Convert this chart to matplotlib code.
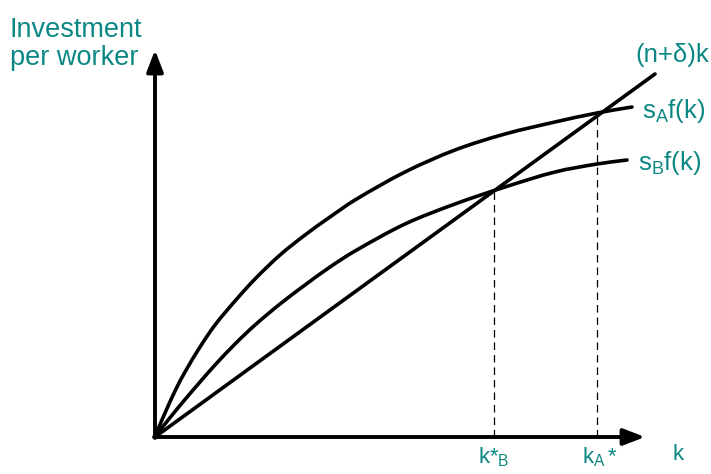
import matplotlib
matplotlib.use("Agg")
import matplotlib.pyplot as plt
from matplotlib.path import Path
from matplotlib.patches import PathPatch

plt.rcParams['font.family'] = ['Liberation Sans', 'DejaVu Sans']
plt.rcParams['mathtext.fontset'] = 'custom'
plt.rcParams['mathtext.rm'] = 'Liberation Sans'
plt.rcParams['mathtext.it'] = 'Liberation Sans:italic'

TEAL = '#0b8883'

# capital per worker (k) and investment per worker, high savings rate s_A
k_A = [0.0, 0.05, 0.1, 0.2, 0.3, 0.45, 0.6, 0.8, 1.0, 1.25, 1.5, 1.75, 2.0,
       2.5, 3.0, 3.5, 4.0, 4.42, 4.77]
inv_A = [0.0, 0.125, 0.24, 0.46, 0.65, 0.90, 1.12, 1.36, 1.58, 1.82, 2.02, 2.20, 2.37,
         2.65, 2.87, 3.03, 3.15, 3.24, 3.30]

# low savings rate s_B
k_B = [0.0, 0.05, 0.1, 0.2, 0.3, 0.45, 0.6, 0.8, 1.0, 1.25, 1.5, 1.75, 2.0,
       2.5, 3.0, 3.5, 4.0, 4.42, 4.72]
inv_B = [0.0, 0.065, 0.13, 0.255, 0.375, 0.55, 0.72, 0.93, 1.12, 1.33, 1.52, 1.70, 1.86,
         2.13, 2.33, 2.50, 2.65, 2.73, 2.77]

# break-even investment line (n+delta)k
k_line = [0.0, 5.0]
breakeven = [0.0, 3.63]

# steady states
kstar_B, ystar_B = 3.39, 2.46
kstar_A, ystar_A = 4.42, 3.23


def smooth_path(xs, ys):
    """Hermite curve through the points (finite-difference slopes), as Bezier segments."""
    n = len(xs)
    slopes = []
    for i in range(n):
        a = max(i - 1, 0)
        b = min(i + 1, n - 1)
        slopes.append((ys[b] - ys[a]) / (xs[b] - xs[a]))
    verts = [(xs[0], ys[0])]
    codes = [Path.MOVETO]
    for i in range(n - 1):
        h = xs[i + 1] - xs[i]
        c1 = (xs[i] + h / 3, ys[i] + slopes[i] * h / 3)
        c2 = (xs[i + 1] - h / 3, ys[i + 1] - slopes[i + 1] * h / 3)
        verts += [c1, c2, (xs[i + 1], ys[i + 1])]
        codes += [Path.CURVE4] * 3
    return Path(verts, codes)


fig = plt.figure(figsize=(7.11, 4.74), dpi=100)
ax = fig.add_axes([0, 0, 1, 1])
ax.set_xlim(-1.55, 5.56)
ax.set_ylim(-0.37, 4.37)
ax.axis('off')

LW = 2.6
for xs, ys in [(k_A, inv_A), (k_B, inv_B)]:
    ax.add_patch(PathPatch(smooth_path(xs, ys), fill=False, edgecolor='black', lw=LW,
                           capstyle='round', joinstyle='round'))
ax.plot(k_line, breakeven, color='black', lw=LW, solid_capstyle='round')

# steady-state drop lines
ax.plot([kstar_B, kstar_B], [0, ystar_B], color='black', lw=0.9, ls=(0, (6, 4)))
ax.plot([kstar_A, kstar_A], [0, ystar_A], color='black', lw=0.9, ls=(0, (6, 4)))

# axes with arrow heads
arrow = dict(arrowstyle='-|>,head_length=1.3,head_width=0.5', lw=2.8, color='black',
             shrinkA=0, shrinkB=0, mutation_scale=10)
ax.annotate('', xy=(0, 3.87), xytext=(0, -0.01), arrowprops=arrow)
ax.annotate('', xy=(4.90, 0), xytext=(-0.01, 0), arrowprops=arrow)

# labels
ax.text(-1.45, 4.00, 'Investment', color=TEAL, fontsize=19.5, va='baseline', ha='left')
ax.text(-1.45, 3.72, 'per worker', color=TEAL, fontsize=19.5, va='baseline', ha='left')

ax.text(4.80, 3.75, r'(n+δ)k', color=TEAL, fontsize=18.5, va='baseline', ha='left')
ax.text(4.87, 3.19, r'$\mathrm{s_{A}f(k)}$', color=TEAL, fontsize=18.5, va='baseline', ha='left')
ax.text(4.83, 2.67, r'$\mathrm{s_{B}f(k)}$', color=TEAL, fontsize=18.5, va='baseline', ha='left')

ax.text(3.23, -0.26, r'$\mathrm{k}{*}_{\mathrm{B}}$', color=TEAL, fontsize=16, va='baseline', ha='left')
ax.text(4.27, -0.26, r'$\mathrm{k_{A}}\,{*}$', color=TEAL, fontsize=16, va='baseline', ha='left')
ax.text(5.17, -0.23, 'k', color=TEAL, fontsize=16, va='baseline', ha='left')

fig.savefig('out.png', dpi=100)
